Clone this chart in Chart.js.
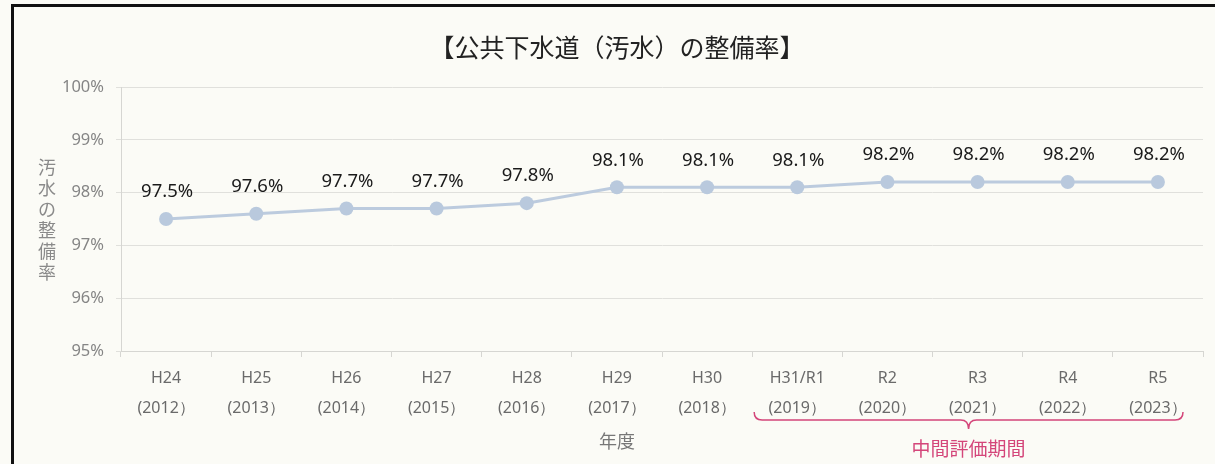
<!DOCTYPE html>
<html lang="ja">
<head>
<meta charset="utf-8">
<title>公共下水道（汚水）の整備率</title>
<script src="https://cdn.jsdelivr.net/npm/chart.js@4"></script>
<style>
    html, body { margin: 0; padding: 0; background: #fbfbf6; }
    #wrap { position: relative; width: 1215px; height: 464px; }
    #frame {
        position: absolute; left: 11px; top: 4px; right: 0; bottom: 0;
        border-top: 3px solid #111; border-left: 3px solid #111;
        pointer-events: none;
    }
</style>
</head>
<body>
<div id="wrap">
    <canvas id="chart" width="1215" height="464"></canvas>
    <div id="frame"></div>
</div>
<script>
// 年度ラベル（和暦・西暦）
const wareki = ['H24', 'H25', 'H26', 'H27', 'H28', 'H29', 'H30', 'H31/R1', 'R2', 'R3', 'R4', 'R5'];
const seireki = ['(2012）', '(2013）', '(2014）', '(2015）', '(2016）', '(2017）', '(2018）', '(2019）', '(2020）', '(2021）', '(2022）', '(2023）'];
// 整備率（%）
const seibiRitsu = [97.5, 97.6, 97.7, 97.7, 97.8, 98.1, 98.1, 98.1, 98.2, 98.2, 98.2, 98.2];
const yTicks = [95, 96, 97, 98, 99, 100];

const titleText = '【公共下水道（汚水）の整備率】';
const yTitle = '汚水の整備率';
const xTitle = '年度';
const periodText = '中間評価期間';
const periodFrom = 7;   // H31/R1
const periodTo = 11;    // R5

(function() {
    'use strict';

    const labels = wareki.map(function(w, i) { return [w, seireki[i]]; });
    const pink = '#d4467a';

    // 数値ラベル、軸タイトル、中間評価期間の括弧
    const extras = {
        id: 'extras',
        afterDatasetsDraw: function(chart) {
            const ctx = chart.ctx;
            const meta = chart.getDatasetMeta(0);
            const x = chart.scales.x;

            ctx.save();
            ctx.textAlign = 'center';
            ctx.textBaseline = 'middle';

            // 数値ラベル
            ctx.fillStyle = '#1a1a1a';
            ctx.font = '18.5px "Noto Sans", sans-serif';
            meta.data.forEach(function(pt, i) {
                ctx.fillText(seibiRitsu[i].toFixed(1) + '%', pt.x + 1, pt.y - 27);
            });

            // タイトル
            ctx.fillStyle = '#222';
            ctx.font = '25px "Noto Sans CJK JP", sans-serif';
            ctx.fillText(titleText, 617, 47);

            // 縦書きの軸タイトル
            ctx.fillStyle = '#8a8a8a';
            ctx.font = '18px "Noto Sans CJK JP", sans-serif';
            Array.from(yTitle).forEach(function(ch, i) {
                ctx.fillText(ch, 47, 167 + i * 21);
            });

            // 横軸タイトル
            ctx.fillStyle = '#777';
            ctx.font = '18px "Noto Sans CJK JP", sans-serif';
            ctx.fillText(xTitle, 617, 441);

            // 括弧
            const w = x.getPixelForValue(1) - x.getPixelForValue(0);
            const x0 = x.getPixelForValue(periodFrom) - w / 2 + 2;
            const x1 = x.getPixelForValue(periodTo) + w / 2 - 20;
            const xm = (x0 + x1) / 2;
            const top = 412, mid = 420, tip = 429;
            ctx.strokeStyle = pink;
            ctx.lineWidth = 1.5;
            ctx.beginPath();
            ctx.moveTo(x0, top);
            ctx.quadraticCurveTo(x0, mid, x0 + 8, mid);
            ctx.lineTo(xm - 8, mid);
            ctx.quadraticCurveTo(xm, mid, xm, tip);
            ctx.quadraticCurveTo(xm, mid, xm + 8, mid);
            ctx.lineTo(x1 - 8, mid);
            ctx.quadraticCurveTo(x1, mid, x1, top);
            ctx.stroke();

            ctx.fillStyle = pink;
            ctx.font = '19px "Noto Sans CJK JP", sans-serif';
            ctx.fillText(periodText, xm, 449);
            ctx.restore();
        }
    };

    new Chart(document.getElementById('chart'), {
        type: 'line',
        data: {
            labels: labels,
            datasets: [{
                data: seibiRitsu,
                borderColor: '#bccbde',
                backgroundColor: '#b9c9dd',
                borderWidth: 3,
                pointRadius: 7,
                pointHoverRadius: 7,
                pointBorderWidth: 0,
                tension: 0
            }]
        },
        options: {
            responsive: false,
            animation: false,
            layout: { padding: { left: 30, right: 12, top: 87, bottom: 35 } },
            plugins: {
                legend: { display: false },
                tooltip: { enabled: false }
            },
            scales: {
                x: {
                    offset: true,
                    grid: {
                        offset: true,
                        drawOnChartArea: false,
                        drawTicks: true,
                        tickLength: 6,
                        color: '#d6d6d2'
                    },
                    border: { color: '#d6d6d2' },
                    ticks: {
                        padding: 6,
                        color: '#6a6a6a',
                        font: { family: '"Noto Sans", sans-serif', size: 16, lineHeight: 1.875 },
                        maxRotation: 0,
                        autoSkip: false
                    }
                },
                y: {
                    min: yTicks[0],
                    max: yTicks[yTicks.length - 1],
                    afterFit: function(scale) { scale.width = 91; },
                    afterBuildTicks: function(scale) {
                        scale.ticks = yTicks.map(function(v) { return { value: v }; });
                    },
                    grid: { color: '#e0e0dc', tickLength: 5 },
                    border: { color: '#d6d6d2' },
                    ticks: {
                        padding: 12,
                        color: '#858585',
                        font: { family: '"Noto Sans", sans-serif', size: 16.5 },
                        callback: function(v) { return v + '%'; }
                    }
                }
            }
        },
        plugins: [extras]
    });
})();
</script>
</body>
</html>
